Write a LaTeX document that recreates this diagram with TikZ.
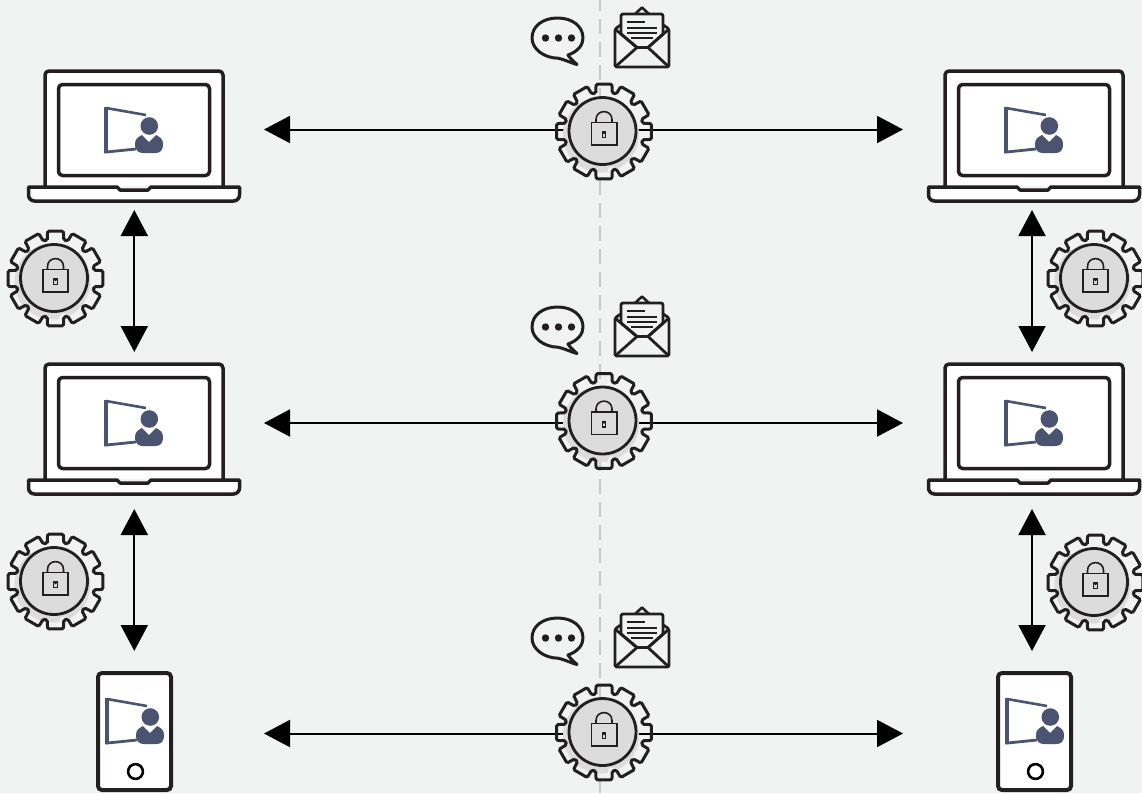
\documentclass[tikz,border=0pt]{standalone}
\usetikzlibrary{arrows.meta}
\definecolor{bgc}{HTML}{F1F3F3}
\definecolor{ink}{HTML}{231F20}
\definecolor{slate}{HTML}{4A5470}
\definecolor{gearg}{HTML}{DCDCDC}
\definecolor{dashc}{HTML}{C9C9C9}
\tikzset{
  x=1pt,y=-1pt,
  ln/.style={draw=ink,line width=3.5pt,line join=round},
  conn/.style={draw=black,line width=2pt,{Triangle[length=26pt,width=27pt]}-{Triangle[length=26pt,width=27pt]}},
  usericon/.pic={
    \draw[slate,line width=2.6pt,line join=miter] (40,-10) -- (0,-17);
    \draw[slate,line width=3.8pt] (0,-18) -- (0,27.5);
    \draw[slate,line width=2.8pt] (-1.5,27.2) -- (30,24);
    \fill[slate] (43.3,1) circle (8.8);
    \fill[slate] (36,10) .. controls (32,12) and (29,14) .. (29,19) .. controls (29,26) and (33,28) .. (37,28)
      -- (49,28) .. controls (54,28) and (57,26) .. (57,19) .. controls (57,14) and (54,12) .. (50,10) -- (43,17) -- cycle;
  },
  laptop/.pic={
    \path[ln,fill=white,rounded corners=4pt] (45,186) -- (45,71) -- (223,71) -- (223,186);
    \path[ln,fill=white,rounded corners=4pt] (58.5,84.5) rectangle (209.5,175.5);
    \path[ln,fill=white] (28.5,187) -- (117,187) -- (120,190) -- (148,190) -- (151,187) -- (239.5,187)
      [rounded corners=6pt] -- (239.5,201) -- (28.5,201) [sharp corners] -- cycle;
    \pic at (106,125) {usericon};
  },
  phone/.pic={
    \path[draw=ink,line width=4pt,fill=white,rounded corners=4pt] (98,673) rectangle (171,790);
    \draw[black,line width=2.6pt,fill=white] (135.5,771.5) circle (7.4);
    \pic at (107,716) {usericon};
  },
  gear/.pic={
    \fill[gearg] (-3,3) circle (38);
    \fill[bgc] (30,-30) circle (5) (36,26) circle (5) (8,39) circle (4) (-34,-26) circle (4);
    \draw[ink,line width=3pt,rounded corners=1.4pt] (-102:39.5)
      \foreach \a in {-90,-60,...,240} { -- ({\a-12}:39.5) -- ({\a-9.5}:48) -- ({\a+9.5}:48) -- ({\a+12}:39.5) } -- cycle;
    \draw[ink,line width=2.8pt,fill=gearg] (-1.5,-0.5) circle (33.5);
    \draw[ink,line width=1.6pt,fill=gearg] (-12.7,-9.2) rectangle (12.7,13.5);
    \draw[ink,line width=1.6pt] (-8,-9.2) -- (-8,-12) .. controls (-8,-22.5) and (8,-22.5) .. (8,-12) -- (8,-9.2);
    \draw[ink,line width=1.1pt] (-1.6,0.5) rectangle (1.6,6);
    \fill[ink] (0,1.2) circle (1.6);
    \coordinate (-c) at (0,0);
  },
  bubble/.pic={
    \path[draw=ink,line join=round,line width=3pt,fill=bgc] (558,58.2) .. controls (566,60) and (571,63) .. (577,64.5) .. controls (572,60) and (569,57) .. (568,55)
      .. controls (578,51.5) and (583,45) .. (583,38) .. controls (583,26) and (572,18) .. (557.5,18)
      .. controls (543,18) and (532,26) .. (532,38) .. controls (532,49) and (544,58) .. (558,58.2) -- cycle;
    \fill[ink] (545.5,38) circle (3.7) (558.5,38) circle (3.7) (571.5,38) circle (3.7);
  },
  envelope/.pic={
    \path[draw=ink,line width=2.8pt,line join=round,fill=bgc,rounded corners=1.5pt] (615,29) -- (615,67) -- (669,67) -- (669,29) -- (642,10) -- cycle;
    \path[draw=ink,line width=2.6pt,line join=round,fill=bgc] (635,14) -- (642,7.5) -- (649,14);
    \path[draw=ink,line width=2.8pt,line join=round,fill=bgc] (621,34) [rounded corners=2pt] -- (621,14) -- (663,14) [sharp corners] -- (663,34) -- (648,47.5) -- (637,47.5) -- cycle;
    \draw[ink,line width=2.8pt,line join=round] (615,29) -- (637,47.5) -- (648,47.5) -- (669,29);
    \draw[ink,line width=2.8pt] (615,67) -- (637,47.5) (669,67) -- (648,47.5);
    \draw[ink,line width=2pt] (627,22) -- (645,22) (627,27.5) -- (657,27.5) (627,32.5) -- (657,32.5) (631,37.5) -- (653,37.5);
  },
}
\begin{document}
\begin{tikzpicture}
\useasboundingbox (0,0) rectangle (1142,793);
\clip (0,0) rectangle (1142,793);
\fill[bgc] (0,0) rectangle (1142,793);
\draw[dashc,line width=2.6pt,dash pattern=on 15pt off 8pt] (600,-4) -- (600,793);

% free ends of the connectors
\foreach \n/\y in {a/129.5,b/423,c/733.5}{
  \coordinate (\n L) at (264,\y);
  \coordinate (\n R) at (903,\y);
}
\coordinate (v1t) at (134.3,210);  \coordinate (v1b) at (134.3,352);
\coordinate (v2t) at (134.3,509);  \coordinate (v2b) at (134.3,651);
\coordinate (v3t) at (1032,210);   \coordinate (v3b) at (1032,352);
\coordinate (v4t) at (1032,509);   \coordinate (v4b) at (1032,651);

\draw[conn] (aL) -- (aR);
\draw[conn] (bL) -- (bR);
\draw[conn] (cL) -- (cR);
\draw[conn] (v1t) -- (v1b);
\draw[conn] (v2t) -- (v2b);
\draw[conn] (v3t) -- (v3b);
\draw[conn] (v4t) -- (v4b);

% devices
\pic (lapA) at (0,0) {laptop};
\pic (lapB) at (0,293) {laptop};
\pic (lapC) at (900,0) {laptop};
\pic (lapD) at (900,293) {laptop};
\pic (phA) at (0,0) {phone};
\pic (phB) at (900,0) {phone};

% message icons
\foreach \dy [count=\i] in {0,289,600}{
  \pic (bub\i) at (0,\dy) {bubble};
  \pic (env\i) at (0,\dy) {envelope};
}

% gears
\pic (gA) at (604,131.5) {gear};
\pic (gB) at (604,421) {gear};
\pic (gC) at (604,732.5) {gear};
\pic (gD) at (55.5,278.5) {gear};
\pic (gE) at (55.5,581.5) {gear};
\pic (gF) at (1095.5,278.5) {gear};
\pic (gG) at (1095.5,582.5) {gear};
\end{tikzpicture}
\end{document}
